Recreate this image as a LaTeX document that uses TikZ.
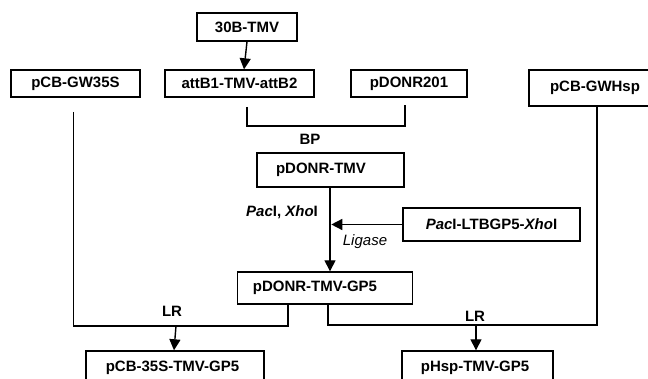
\documentclass[tikz,border=0pt]{standalone}
\usepackage{fontspec}
\setmainfont{Liberation Sans}
\usetikzlibrary{arrows.meta,calc}
\begin{document}
\begin{tikzpicture}[x=1pt,y=-1pt,
  box/.style={draw,line width=1.4pt,inner sep=0pt,font=\fontsize{15}{18}\selectfont\bfseries},
  lbl/.style={inner sep=0pt,font=\fontsize{15}{18}\selectfont\bfseries},
  conn/.style={line width=1.4pt},
  arr/.style={line width=1.4pt,-{Triangle[width=11pt,length=11pt]}}]
\useasboundingbox (0,0) rectangle (648,379);
% boxes
\node[box,minimum width=100pt,minimum height=28pt] (tb) at (247,27) {30B-TMV};
\node[box,minimum width=129pt,minimum height=27pt] (gw35) at (75.5,83.5) {pCB-GW35S};
\node[box,minimum width=149pt,minimum height=27pt] (att) at (239.5,83.5) {attB1-TMV-attB2};
\node[box,minimum width=116pt,minimum height=27pt] (pd201) at (409,83.5) {pDONR201};
\node[box,minimum width=132pt,minimum height=36pt] (gwhsp) at (595,88) {pCB-GWHsp};
\node[box,minimum width=147pt,minimum height=34pt] (dt) at (330.5,170) {\hspace*{-19pt}pDONR-TMV};
\node[box,minimum width=177pt,minimum height=33pt] (lt) at (491.5,224.5) {\textit{Pac}I-LTBGP5-\textit{Xho}I};
\node[box,minimum width=175pt,minimum height=32pt] (gp5) at (325,288) {\hspace*{-20pt}pDONR-TMV-GP5};
\node[box,minimum width=178pt,minimum height=34pt] (s35) at (175,368) {\hspace*{-5pt}pCB-35S-TMV-GP5};
\node[box,minimum width=151pt,minimum height=34pt] (hsp) at (477.5,368) {\hspace*{-5pt}pHsp-TMV-GP5};
% labels
\node[lbl] (bp) at (310,139) {BP};
\node[lbl] (pac) at (282,212) {\textit{Pac}I, \textit{Xho}I};
\node[inner sep=0pt,font=\fontsize{15}{18}\selectfont\itshape] (lig) at (365,242) {Ligase};
\node[lbl] (lr1) at (172,311) {LR};
\node[lbl] (lr2) at (475,316) {LR};
% coordinates
\coordinate (b1) at (247,107);
\coordinate (b2) at (247,126);
\coordinate (b3) at (405,126);
\coordinate (b4) at (405,105);
\coordinate (l1) at (73.5,112);
\coordinate (l2) at (73.5,326);
\coordinate (l3) at (288,326);
\coordinate (l4) at (176,326);
\coordinate (r1) at (328,325);
\coordinate (r2) at (597,325);
\coordinate (r3) at (476,325);
% connectors
\draw[arr] (tb.south) -- ([xshift=-3pt]tb.south |- att.north);
\draw[conn] (b1) -- (b2) -- (b3) -- (b4);
\draw[arr] ([xshift=-0.5pt]dt.south) -- ([xshift=-0.5pt]dt.south |- gp5.north);
\draw[arr] (lt.west) -- ++(-71,0);
\draw[conn] (l1) -- (l2) -- (l3) -- (l3 |- gp5.south);
\draw[conn] (r1 |- gp5.south) -- (r1) -- (r2) -- (r2 |- gwhsp.south);
\draw[arr] (l4) -- ([xshift=-2pt]l4 |- s35.north);
\draw[arr] (r3) -- (r3 |- hsp.north);
\end{tikzpicture}
\end{document}
